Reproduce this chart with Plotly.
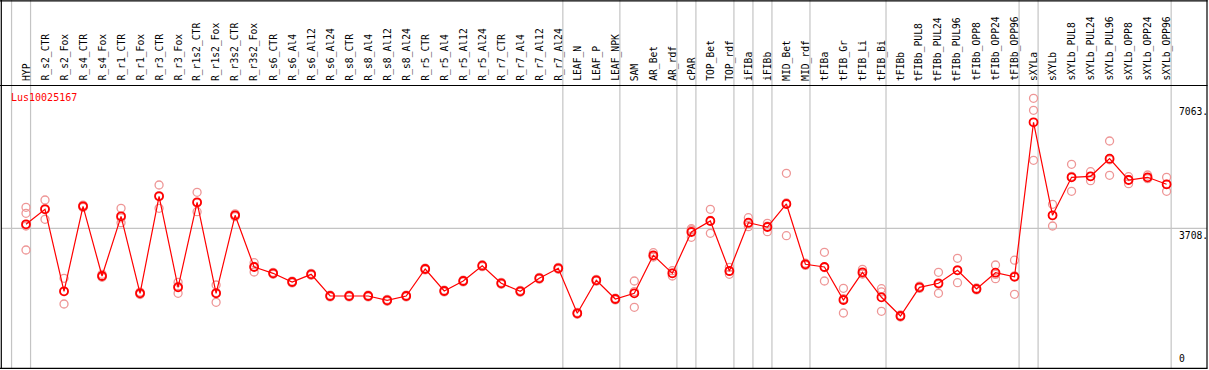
import plotly.graph_objects as go

W, H = 1209, 370

samples = ["HYP", "R_s2_CTR", "R_s2_Fox", "R_s4_CTR", "R_s4_Fox", "R_r1_CTR", "R_r1_Fox",
           "R_r3_CTR", "R_r3_Fox", "R_r1s2_CTR", "R_r1s2_Fox", "R_r3s2_CTR", "R_r3s2_Fox",
           "R_s6_CTR", "R_s6_Al4", "R_s6_Al12", "R_s6_Al24", "R_s8_CTR", "R_s8_Al4", "R_s8_Al12",
           "R_s8_Al24", "R_r5_CTR", "R_r5_Al4", "R_r5_Al12", "R_r5_Al24", "R_r7_CTR", "R_r7_Al4",
           "R_r7_Al12", "R_r7_Al24", "LEAF_N", "LEAF_P", "LEAF_NPK", "SAM", "AR_Bet", "AR_rdf",
           "cPAR", "TOP_Bet", "TOP_rdf", "iFIBa", "iFIBb", "MID_Bet", "MID_rdf", "tFIBa",
           "tFIB_Gr", "tFIB_Li", "tFIB_Bi", "tFIBb", "tFIBb_PUL8", "tFIBb_PUL24", "tFIBb_PUL96",
           "tFIBb_OPP8", "tFIBb_OPP24", "tFIBb_OPP96", "sXYLa", "sXYLb", "sXYLb_PUL8",
           "sXYLb_PUL24", "sXYLb_PUL96", "sXYLb_OPP8", "sXYLb_OPP24", "sXYLb_OPP96"]

means = [3816, 4220, 2012, 4301, 2424, 4031, 1958, 4570, 2119, 4408, 1958, 4058, 2666,
         2496, 2262, 2469, 1885, 1885, 1885, 1769, 1885, 2612, 2020, 2289, 2701, 2227, 2012,
         2362, 2631, 1419, 2308, 1804, 1958, 2981, 2496, 3609, 3905, 2558, 3859, 3743, 4363,
         2739, 2666, 1777, 2523, 1850, 1347, 2119, 2227, 2577, 2074, 2513, 2402, 6563, 4058,
         5082, 5109, 5583, 5009, 5082, 4893]

replicates = [
    [4274, 4112, 3770, 3124], [4470, 3951, 4239], [2362, 1670, 2004], [4270, 4300, 4333],
    [2469, 2388, 2415], [4247, 3859, 3987], [1990, 1958, 1926], [4874, 4247, 4589],
    [2254, 1958, 2145], [4678, 4155, 4391], [2181, 1715, 1978], [4020, 4058, 4096],
    [2782, 2531, 2685], [2470, 2496, 2522], [2237, 2262, 2287], [2444, 2469, 2494],
    [1860, 1885, 1910], [1860, 1885, 1910], [1860, 1885, 1910], [1744, 1769, 1794],
    [1860, 1885, 1910], [2587, 2612, 2637], [1995, 2020, 2045], [2264, 2289, 2314],
    [2676, 2701, 2726], [2202, 2227, 2252], [1987, 2012, 2037], [2337, 2362, 2387],
    [2606, 2631, 2656], [1394, 1419, 1444], [2283, 2308, 2333], [1779, 1804, 1829],
    [2289, 1581, 2004], [3051, 2936, 2956], [2566, 2424, 2498], [3698, 3466, 3663],
    [4220, 3574, 3921], [2658, 2469, 2547], [3994, 3751, 3832], [3843, 3617, 3769],
    [5189, 3509, 4391], [2710, 2739, 2768], [3062, 2289, 2647], [2092, 1427, 1812],
    [2604, 2478, 2487], [2082, 1473, 1995], [1320, 1347, 1374], [2150, 2119, 2088],
    [2523, 1958, 2200], [2900, 2243, 2588], [2100, 2074, 2048], [2720, 2351, 2468],
    [2849, 1931, 2426], [7209, 6886, 5540], [4355, 3770, 4049], [5432, 4705, 5109],
    [5233, 4990, 5104], [6059, 5136, 5554], [5098, 4909, 5020], [5144, 5044, 5058],
    [5082, 4705, 4892]]

y_ticks = [7063, 3708, 0]
y_tick_labels = ["7063.", "3708.", "0"]
gene_id = "Lus10025167"
group_breaks = [-1, 0, 28, 31, 34, 35, 37, 38, 39, 41, 45, 52, 53, 60]

# pixel geometry
COL0, STEP = 26.0, 19.01
Y0PX, UNITS_PER_PX = 366.0, 26.93
HEADER_Y = 85.5
FONT = "DejaVu Sans Mono"
FS = 9.7

def px(x):
    return x / W

def py(y):
    return 1 - y / H

x_idx = list(range(len(samples)))
rx, ry = [], []
for i, reps in enumerate(replicates):
    for v in reps:
        rx.append(i)
        ry.append(v)

fig = go.Figure()
fig.add_trace(go.Scatter(
    x=rx, y=ry, mode="markers", hoverinfo="skip",
    marker=dict(symbol="circle-open", size=8, color="rgb(238,150,150)",
                line=dict(width=1.3, color="rgb(238,150,150)"))))
fig.add_trace(go.Scatter(
    x=x_idx, y=means, mode="lines+markers",
    line=dict(color="#ff0000", width=1.2),
    marker=dict(symbol="circle-open", size=8, color="#ff0000",
                line=dict(width=1.8, color="#ff0000"))))

shapes = []
gray = "#c4c4c4"
for b in group_breaks:
    shapes.append(dict(type="line", xref="x", yref="paper", x0=b + 0.24, x1=b + 0.24,
                       y0=py(368.5), y1=1, line=dict(color=gray, width=1.2), layer="below"))
shapes.append(dict(type="line", xref="paper", yref="y", x0=px(1), x1=px(1207),
                   y0=y_ticks[1], y1=y_ticks[1], line=dict(color=gray, width=1.2), layer="below"))
black = dict(color="black", width=1.2)
shapes += [
    dict(type="line", xref="paper", yref="paper", x0=px(0), x1=px(1207.5), y0=py(0.8), y1=py(0.8), line=black),
    dict(type="line", xref="paper", yref="paper", x0=px(0), x1=px(1207.5), y0=py(HEADER_Y), y1=py(HEADER_Y), line=black),
    dict(type="line", xref="paper", yref="paper", x0=px(0), x1=px(1207.5), y0=py(368.3), y1=py(368.3), line=black),
    dict(type="line", xref="paper", yref="paper", x0=px(1.3), x1=px(1.3), y0=py(0), y1=py(368.5), line=black),
    dict(type="line", xref="paper", yref="paper", x0=px(1207), x1=px(1207), y0=py(0), y1=py(368.5), line=black),
]

annotations = []
for i, name in enumerate(samples):
    annotations.append(dict(x=i, xref="x", y=py(83), yref="paper", text=name, showarrow=False,
                            textangle=-90, xanchor="center", yanchor="bottom",
                            font=dict(family=FONT, size=FS, color="black")))
for v, lab in zip(y_ticks, y_tick_labels):
    annotations.append(dict(x=px(1177), xref="paper", y=v, yref="y", text=lab, showarrow=False,
                            xanchor="left", yanchor="bottom" if v == 0 else "top",
                            font=dict(family=FONT, size=FS, color="black")))
annotations.append(dict(x=px(9), xref="paper", y=py(97), yref="paper", text=gene_id,
                        showarrow=False, xanchor="left", yanchor="middle",
                        font=dict(family=FONT, size=10, color="#ff0000")))

fig.update_layout(
    width=W, height=H, margin=dict(l=0, r=0, t=0, b=0),
    paper_bgcolor="white", plot_bgcolor="white", showlegend=False,
    xaxis=dict(visible=False, range=[-COL0 / STEP, (W - COL0) / STEP], fixedrange=True),
    yaxis=dict(visible=False, range=[-(H - Y0PX) * UNITS_PER_PX, Y0PX * UNITS_PER_PX], fixedrange=True),
    shapes=shapes, annotations=annotations,
)
fig.write_html("out.html", config={"displayModeBar": False},
               post_script="document.body.style.margin='0';document.body.style.overflow='hidden';")
